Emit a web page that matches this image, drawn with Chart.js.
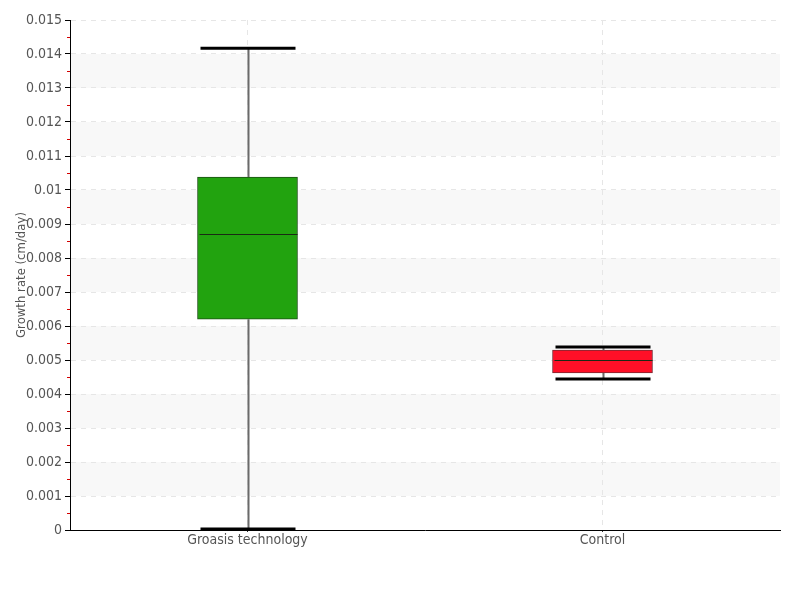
<!DOCTYPE html>
<html lang="en">
<head>
    <meta charset="UTF-8">
    <title>Growth rate</title>
    <script src="https://cdn.jsdelivr.net/npm/chart.js"></script>
    <style>
        html, body { margin: 0; padding: 0; background: #fff; }
        #wrap { width: 800px; height: 600px; }
    </style>
</head>
<body>
    <div id="wrap"><canvas id="growthChart"></canvas></div>
    <script>
        // box plot values
        const groups = ['Groasis technology', 'Control'];
        const mins = [0.00003, 0.00444];
        const q1s = [0.0062, 0.00462];
        const medians = [0.0087, 0.0050];
        const q3s = [0.01038, 0.00529];
        const maxs = [0.01417, 0.00538];
        const boxColors = ['#22a30f', '#ff0f27'];
        const boxBorders = ['#1d4f16', '#7a2a33'];
        const yTicks = [0, 0.001, 0.002, 0.003, 0.004, 0.005, 0.006, 0.007, 0.008,
                        0.009, 0.01, 0.011, 0.012, 0.013, 0.014, 0.015];

        const FONT = '"DejaVu Sans Condensed", "Liberation Sans Narrow", sans-serif';

        // grey bands every other step
        const bandPlugin = {
            id: 'bands',
            beforeDraw(chart) {
                const ctx = chart.ctx;
                const area = chart.chartArea;
                const y = chart.scales.y;
                ctx.save();
                ctx.fillStyle = '#f8f8f8';
                for (let i = 1; i < yTicks.length - 1; i += 2) {
                    const top = y.getPixelForValue(yTicks[i + 1]);
                    const bottom = y.getPixelForValue(yTicks[i]);
                    ctx.fillRect(area.left, top, area.right - area.left, bottom - top);
                }
                ctx.restore();
            }
        };

        // whiskers, caps, medians and the red minor ticks
        const boxPlugin = {
            id: 'boxParts',
            afterDatasetsDraw(chart) {
                const ctx = chart.ctx;
                const x = chart.scales.x;
                const y = chart.scales.y;
                ctx.save();
                groups.forEach((g, i) => {
                    const cx = Math.round(x.getPixelForValue(i)) + 0.5;
                    // whiskers
                    ctx.strokeStyle = '#6a6a6a';
                    ctx.lineWidth = 2;
                    ctx.beginPath();
                    ctx.moveTo(cx, y.getPixelForValue(q3s[i]));
                    ctx.lineTo(cx, y.getPixelForValue(maxs[i]));
                    ctx.moveTo(cx, y.getPixelForValue(q1s[i]));
                    ctx.lineTo(cx, y.getPixelForValue(mins[i]));
                    ctx.stroke();
                    // caps
                    ctx.strokeStyle = '#000';
                    ctx.lineWidth = 3;
                    ctx.beginPath();
                    ctx.moveTo(cx - 48, y.getPixelForValue(maxs[i]));
                    ctx.lineTo(cx + 47, y.getPixelForValue(maxs[i]));
                    ctx.moveTo(cx - 48, y.getPixelForValue(mins[i]));
                    ctx.lineTo(cx + 47, y.getPixelForValue(mins[i]));
                    ctx.stroke();
                    // median
                    ctx.strokeStyle = '#1a2a14';
                    ctx.lineWidth = 1;
                    ctx.beginPath();
                    const my = Math.round(y.getPixelForValue(medians[i])) + 0.5;
                    ctx.moveTo(cx - 49, my);
                    ctx.lineTo(cx + 49, my);
                    ctx.stroke();
                });
                ctx.restore();
            },
            afterDraw(chart) {
                const ctx = chart.ctx;
                const y = chart.scales.y;
                const left = chart.chartArea.left;
                ctx.save();
                ctx.strokeStyle = '#d40000';
                ctx.lineWidth = 1;
                ctx.beginPath();
                for (let i = 0; i < yTicks.length - 1; i++) {
                    const py = Math.round(y.getPixelForValue((yTicks[i] + yTicks[i + 1]) / 2)) + 0.5;
                    ctx.moveTo(left - 3, py);
                    ctx.lineTo(left, py);
                }
                ctx.stroke();
                ctx.restore();
            }
        };

        new Chart(document.getElementById('growthChart'), {
            type: 'bar',
            data: {
                labels: groups,
                datasets: [{
                    data: groups.map((g, i) => [q1s[i], q3s[i]]),
                    backgroundColor: boxColors,
                    borderColor: boxBorders,
                    borderWidth: 1,
                    borderSkipped: false,
                    barThickness: 100
                }]
            },
            options: {
                responsive: true,
                maintainAspectRatio: false,
                animation: false,
                layout: { padding: { left: 0, top: 20, right: 20, bottom: 30 } },
                plugins: {
                    legend: { display: false },
                    tooltip: { enabled: false }
                },
                scales: {
                    x: {
                        grid: { offset: false, color: '#e6e6e6', tickColor: '#333', tickLength: 2, drawOnChartArea: true },
                        border: { color: '#000', width: 1, dash: [5, 5] },
                        ticks: { color: '#555', font: { family: FONT, size: 14 }, padding: 0 },
                        afterFit(scale) { scale.height = 40; }
                    },
                    y: {
                        min: 0,
                        max: 0.015,
                        afterBuildTicks(scale) { scale.ticks = yTicks.map(v => ({ value: v })); },
                        grid: { color: '#e6e6e6', tickColor: '#000', tickLength: 5 },
                        border: { color: '#000', width: 1, dash: [5, 5] },
                        ticks: {
                            color: '#555',
                            font: { family: FONT, size: 14 },
                            padding: 3,
                            callback: v => String(+v.toFixed(3))
                        },
                        title: {
                            display: true,
                            text: 'Growth rate (cm/day)',
                            color: '#555',
                            font: { family: FONT, size: 13 },
                            padding: { top: 14, bottom: 0 }
                        },
                        afterFit(scale) { scale.width = 70; }
                    }
                }
            },
            plugins: [bandPlugin, boxPlugin]
        });
    </script>
</body>
</html>
